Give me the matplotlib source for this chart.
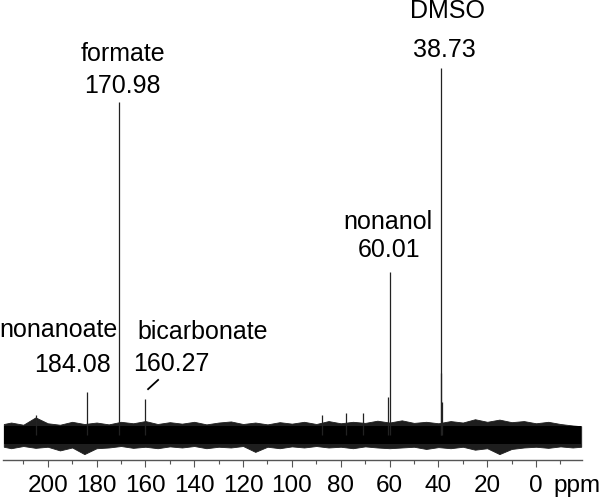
import numpy as np
import matplotlib
matplotlib.use("Agg")
import matplotlib.pyplot as plt

plt.rcParams['font.family'] = ['Liberation Sans', 'DejaVu Sans']

# peaks (ppm, relative intensity, DMSO = 100)
peak_ppm = [38.73, 170.98, 60.01, 184.08, 160.27, 60.8, 38.9, 38.5, 87.5, 77.7, 70.7, 205.0]
peak_int = [100.0, 90.7, 44.5, 11.8, 9.7, 10.4, 17.0, 9.0, 5.4, 6.0, 6.0, 5.4]

# baseline noise envelope, every 5 ppm
noise_ppm = [218, 215, 210, 205, 200, 195, 190, 185, 180, 175, 170, 165, 160,
             155, 150, 145, 140, 135, 130, 125, 120, 115, 110, 105, 100, 95,
             90, 85, 80, 75, 70, 65, 60, 55, 50, 45, 40, 35, 30, 25, 20, 15,
             10, 5, 0, -5, -10, -15, -18.5]
noise_top = [3.0, 3.4, 2.8, 4.8, 3.2, 2.8, 3.6, 3.0, 3.4, 2.9, 3.6, 3.2, 3.8,
             3.0, 3.5, 3.1, 3.6, 2.9, 3.4, 3.7, 3.0, 3.4, 2.9, 3.5, 3.1, 3.6,
             3.0, 3.8, 3.2, 3.6, 3.3, 3.9, 3.4, 4.0, 3.3, 3.6, 3.2, 3.8, 3.4,
             4.3, 3.6, 4.2, 3.5, 3.8, 3.2, 3.6, 3.0, 2.6, 2.4]
noise_bot = [-3.2, -3.6, -3.0, -3.5, -3.2, -4.2, -3.4, -5.2, -3.6, -3.4, -3.0, -3.5, -3.2,
             -3.6, -3.1, -3.4, -3.0, -3.6, -3.2, -3.4, -3.0, -4.6, -3.2, -3.6, -3.1, -3.4,
             -3.0, -3.4, -3.2, -3.6, -3.1, -3.4, -3.6, -3.4, -3.2, -3.8, -3.3, -3.6, -3.2,
             -4.0, -3.6, -5.2, -3.8, -3.4, -3.2, -3.5, -3.1, -3.4, -3.2]
core_top = 2.4
core_bot = -2.4

labels = [
    ("DMSO", 36.1, 113.6),
    ("38.73", 37.7, 103.0),
    ("formate", 169.3, 101.9),
    ("170.98", 169.5, 93.2),
    ("nonanol", 60.5, 56.0),
    ("60.01", 60.2, 48.6),
    ("nonanoate", 195.7, 26.6),
    ("184.08", 190.0, 17.1),
    ("bicarbonate", 136.5, 26.1),
    ("160.27", 149.3, 17.4),
]

fig = plt.figure(figsize=(6.0, 4.99), dpi=100)
ax = fig.add_axes([0.0055, 0.0782, 0.964, 0.9218])

ax.fill_between(noise_ppm, noise_bot, noise_top, color='#1e1e1e', lw=0.6, edgecolor='#1e1e1e')
ax.fill_between([noise_ppm[0], noise_ppm[-1]], core_bot, core_top, color='black', lw=0)
ax.vlines(peak_ppm, 0, peak_int, color='#222222', lw=0.9)

# pointer stroke next to bicarbonate
ax.plot([158.9, 154.8], [12.5, 15.0], color='black', lw=1.3)

for txt, x, y in labels:
    ax.text(x, y, txt, ha='center', va='baseline', fontsize=18)

ax.set_xlim(218.2, -18.7)
ax.set_ylim(-6.8, 118.5)
ax.set_xticks(np.arange(200, -1, -20))
ax.set_xticks(np.arange(210, -20, -10), minor=True)
ax.tick_params(axis='x', which='major', length=5, width=0.8, color='#555555',
               labelsize=17.5, pad=6)
ax.tick_params(axis='x', which='minor', length=3, width=0.8, color='#555555')
ax.set_yticks([])
for s in ['left', 'right', 'top']:
    ax.spines[s].set_visible(False)
ax.spines['bottom'].set_color('#555555')
ax.spines['bottom'].set_linewidth(1.0)
ax.patch.set_alpha(0)

fig.text(553 / 600, 7 / 499, "ppm", fontsize=17.5, ha='left', va='baseline')

fig.savefig("out.png", dpi=100)
